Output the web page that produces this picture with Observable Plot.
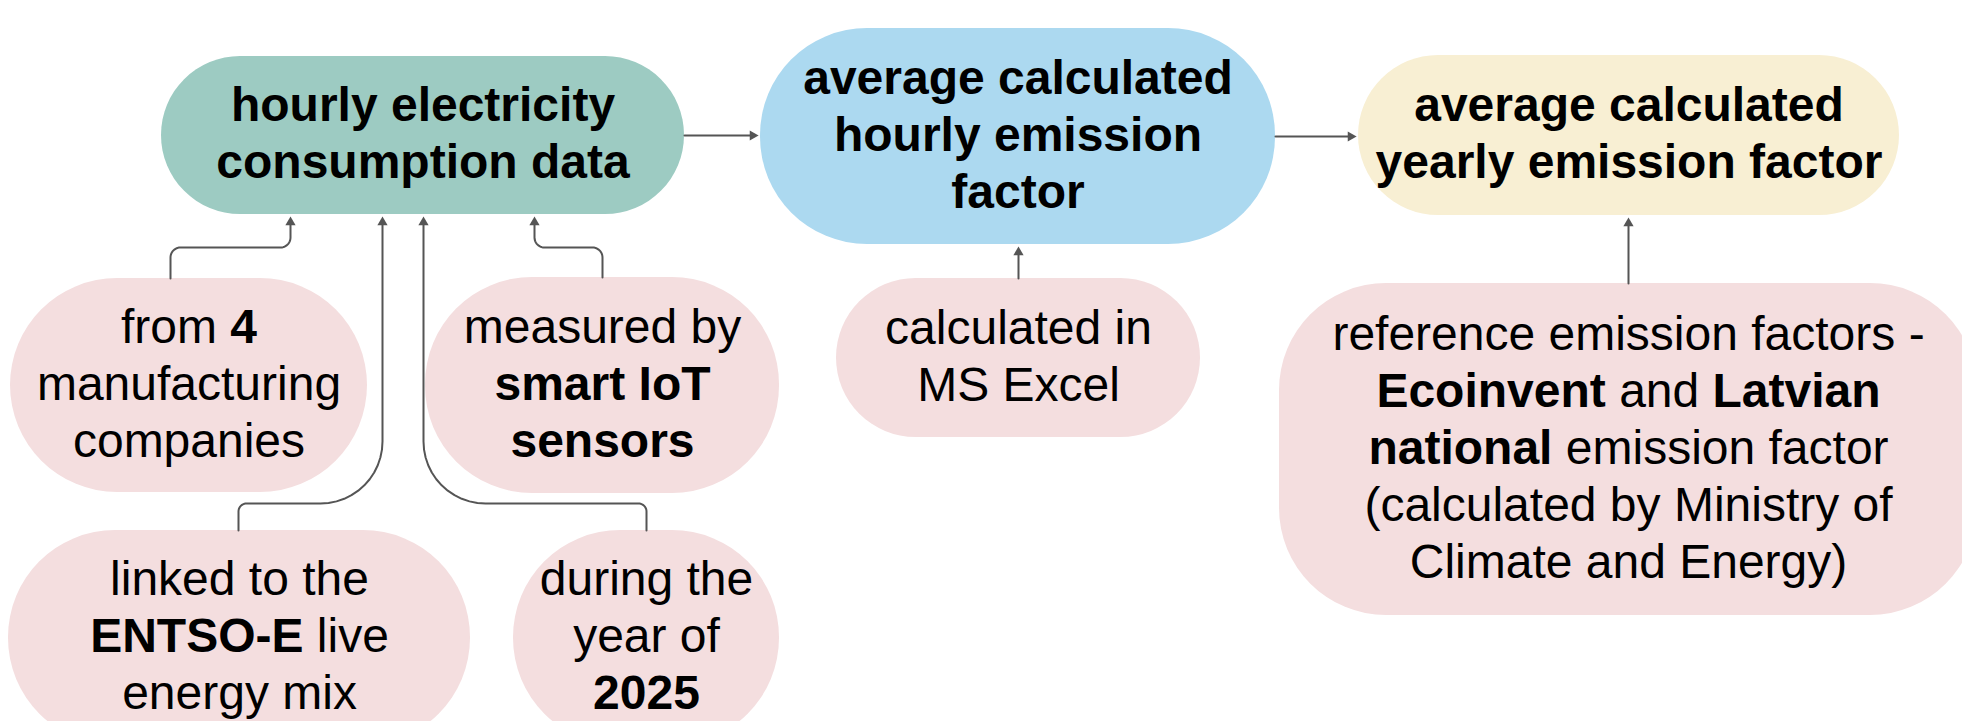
<!DOCTYPE html>
<html><head><meta charset="utf-8">
<script src="https://cdn.jsdelivr.net/npm/d3@7"></script>
<script src="https://cdn.jsdelivr.net/npm/@observablehq/plot@0.6"></script>
<style>html,body{margin:0;padding:0;background:#fff;} #chart svg{display:block;}</style>
</head><body><div id="chart"></div>
<script>
// ---------- Data: node labels (**...** = bold) ----------
const nodeIds = ["consumption","hourly","yearly","companies","sensors","entsoe","year","excel","reference"];
const consumptionText = ["**hourly electricity**", "**consumption data**"];
const hourlyText = ["**average calculated**", "**hourly emission**", "**factor**"];
const yearlyText = ["**average calculated**", "**yearly emission factor**"];
const companiesText = ["from **4**", "manufacturing", "companies"];
const sensorsText = ["measured by", "**smart IoT**", "**sensors**"];
const entsoeText = ["linked to the", "**ENTSO-E** live", "energy mix"];
const yearText = ["during the", "year of", "**2025**"];
const excelText = ["calculated in", "MS Excel"];
const referenceText = ["reference emission factors -", "**Ecoinvent** and **Latvian**", "**national** emission factor", "(calculated by Ministry of", "Climate and Energy)"];
const nodeTexts = [consumptionText, hourlyText, yearlyText, companiesText, sensorsText, entsoeText, yearText, excelText, referenceText];

// links (source -> target)
const linkFrom = ["companies","sensors","entsoe","year","excel","reference","consumption","hourly"];
const linkTo   = ["consumption","consumption","consumption","consumption","hourly","yearly","hourly","yearly"];

// ---------- Layout (diagram coordinates) ----------
const nodeX1 = [161, 760, 1358, 10, 425, 8, 513, 836, 1279];
const nodeX2 = [684, 1275, 1899, 367, 779, 470, 779, 1200, 1977];
const nodeY1 = [56, 28, 55, 278, 277, 530, 530, 278, 283];
const nodeY2 = [214, 244, 215, 492, 493, 745, 745, 437, 615];
const nodeKind = ["input","process","output","note","note","note","note","note","note"];
const kindFill = {input:"#9dcbc2", process:"#acd9f0", output:"#f8efd3", note:"#f4dedf"};
const linkRoute = [
  [[170,278],[170,247],[290,247],[290,216]],
  [[602,277],[602,247],[534,247],[534,216]],
  [[238,530],[238,503],[382,503],[382,216]],
  [[646,530],[646,503],[423,503],[423,216]],
  [[1018,278],[1018,246]],
  [[1628,283],[1628,217]],
  [[684,135],[758,135]],
  [[1275,136],[1356,136]]
];
const linkBend = [[10,10],[10,10],[8,62],[8,62],[],[],[],[]];

// ---------- Build mark data ----------
const nodes = nodeIds.map((id, i) => ({
  id, x1: nodeX1[i], x2: nodeX2[i], y1: nodeY1[i], y2: nodeY2[i],
  fill: kindFill[nodeKind[i]], lines: nodeTexts[i]
}));

const LINE = 57;
const labelRows = [];
nodes.forEach(n => {
  const cx = (n.x1 + n.x2) / 2, cy = (n.y1 + n.y2) / 2, k = n.lines.length;
  n.lines.forEach((s, j) => labelRows.push({x: cx, y: cy + (j - (k - 1) / 2) * LINE - 1, raw: s, plain: s.replace(/\*\*/g, "")}));
});

function roundRoute(pts, radii) {
  const out = [pts[0]];
  for (let i = 1; i < pts.length - 1; i++) {
    const p0 = pts[i-1], p = pts[i], p1 = pts[i+1], r = radii[i-1] || 0;
    const l1 = Math.hypot(p[0]-p0[0], p[1]-p0[1]), l2 = Math.hypot(p1[0]-p[0], p1[1]-p[1]);
    const u1 = [(p[0]-p0[0])/l1, (p[1]-p0[1])/l1], u2 = [(p1[0]-p[0])/l2, (p1[1]-p[1])/l2];
    const a = [p[0]-r*u1[0], p[1]-r*u1[1]];
    const c = [a[0]+r*u2[0], a[1]+r*u2[1]];
    for (let s = 0; s <= 12; s++) {
      const t = s / 12 * Math.PI / 2;
      out.push([c[0]-r*u2[0]*Math.cos(t)+r*u1[0]*Math.sin(t), c[1]-r*u2[1]*Math.cos(t)+r*u1[1]*Math.sin(t)]);
    }
  }
  out.push(pts[pts.length-1]);
  return out;
}

const linkPts = [], heads = [];
linkRoute.forEach((route, i) => {
  const pts = roundRoute(route, linkBend[i]);
  const tip = route[route.length-1], prev = route[route.length-2];
  const L = Math.hypot(tip[0]-prev[0], tip[1]-prev[1]);
  const u = [(tip[0]-prev[0])/L, (tip[1]-prev[1])/L];
  const hx = tip[0] - u[0]*5.8, hy = tip[1] - u[1]*5.8;
  pts[pts.length-1] = [hx, hy];
  pts.forEach(p => linkPts.push({link: linkFrom[i] + ">" + linkTo[i], x: p[0], y: p[1]}));
  heads.push({x: hx, y: hy, rotate: Math.atan2(u[0], -u[1]) * 180 / Math.PI});
});

const FONT = "Liberation Sans, Arial, Helvetica, sans-serif";

const chart = Plot.plot({
  width: 1962, height: 721,
  margin: 0,
  x: {domain: [0, 1962], axis: null},
  y: {domain: [0, 721], range: [0, 721], axis: null},
  style: {background: "#fff", fontFamily: FONT},
  marks: [
    ...nodes.map(n => {
      const r = Math.min(107, (n.y2 - n.y1) / 2, (n.x2 - n.x1) / 2);
      return Plot.rect([n], {x1: "x1", x2: "x2", y1: "y1", y2: "y2", fill: "fill", rx: r, ry: r});
    }),
    Plot.line(linkPts, {x: "x", y: "y", z: "link", stroke: "#555", strokeWidth: 2, curve: "linear"}),
    Plot.dot(heads, {x: "x", y: "y", symbol: "triangle", r: 3.8, fill: "#555", stroke: null, rotate: "rotate"}),
    Plot.text(labelRows, {x: "x", y: "y", text: "plain", fontSize: 48, fontFamily: FONT, fill: "#000", textAnchor: "middle", lineAnchor: "middle"})
  ]
});

// Mixed weights: rebuild each label as tspans
const texts = chart.querySelectorAll('g[aria-label="text"] text');
texts.forEach((t, i) => {
  const row = labelRows[i];
  if (!row || !row.raw.includes("**")) return;
  t.textContent = "";
  row.raw.split("**").forEach((seg, k) => {
    if (!seg) return;
    const ts = document.createElementNS("http://www.w3.org/2000/svg", "tspan");
    if (k % 2 === 1) ts.setAttribute("font-weight", "bold");
    ts.textContent = seg;
    t.appendChild(ts);
  });
});

document.getElementById("chart").appendChild(chart);
</script>
</body></html>
